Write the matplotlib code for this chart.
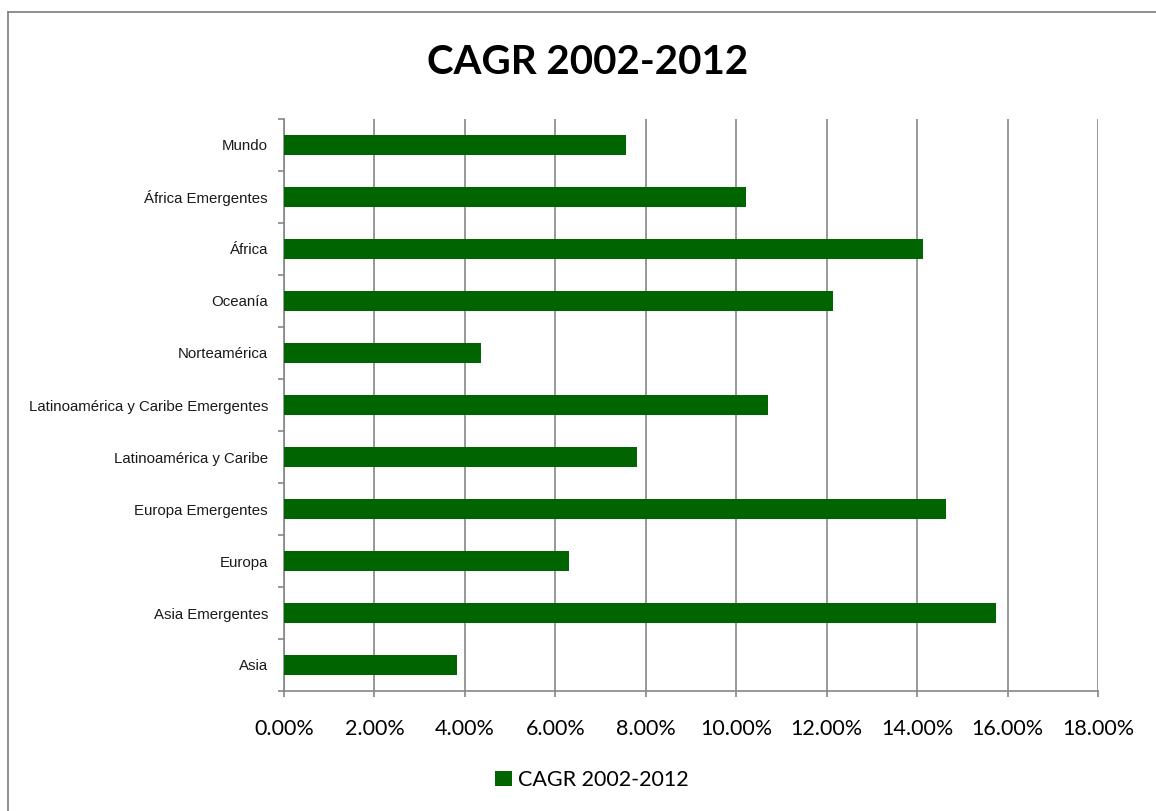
import matplotlib
matplotlib.use("Agg")
import matplotlib.pyplot as plt
from matplotlib.lines import Line2D
from matplotlib.ticker import FixedLocator, PercentFormatter

# Regions, listed top to bottom as they appear on the chart
regions = [
    "Mundo",
    "África Emergentes",
    "África",
    "Oceanía",
    "Norteamérica",
    "Latinoamérica y Caribe Emergentes",
    "Latinoamérica y Caribe",
    "Europa Emergentes",
    "Europa",
    "Asia Emergentes",
    "Asia",
]
# Compound annual growth rate 2002-2012, as fractions
cagr = [0.0757, 0.1022, 0.1412, 0.1215, 0.0436, 0.1070, 0.0780, 0.1463, 0.0630, 0.1575, 0.0383]
series_name = "CAGR 2002-2012"
x_ticks = [0.00, 0.02, 0.04, 0.06, 0.08, 0.10, 0.12, 0.14, 0.16, 0.18]

W, H, DPI = 1156, 811, 100
GREEN = "#006400"
GRID = "#868686"

fig = plt.figure(figsize=(W / DPI, H / DPI), dpi=DPI, facecolor="white")
ax = fig.add_axes([284 / W, 1 - 691 / H, (1098 - 284) / W, (691 - 119) / H])

n = len(regions)
ypos = list(range(n))
ax.barh(ypos, cagr, height=0.4, color=GREEN, edgecolor="none", label=series_name, zorder=3)

ax.set_xlim(x_ticks[0], x_ticks[-1])
ax.set_ylim(n - 0.5, -0.5)

# x axis: percent labels and vertical gridlines
ax.xaxis.set_major_locator(FixedLocator(x_ticks))
ax.xaxis.set_major_formatter(PercentFormatter(xmax=1, decimals=2))
ax.grid(axis="x", color=GRID, linewidth=1.2, zorder=0)
ax.tick_params(axis="x", which="major", direction="out", length=4.5, width=1.2,
               color=GRID, pad=16, labelsize=15.5, labelcolor="black")
for lab in ax.get_xticklabels():
    lab.set_fontfamily(["Lato", "DejaVu Sans"])

# y axis: labels centred on bars, tick marks between categories
ax.set_yticks(ypos)
ax.set_yticklabels(regions, fontfamily=["Liberation Sans", "DejaVu Sans"], fontsize=10.8)
ax.yaxis.set_minor_locator(FixedLocator([i - 0.5 for i in range(n + 1)]))
ax.tick_params(axis="y", which="major", length=0, pad=11.5, labelcolor="#1a1a1a")
ax.tick_params(axis="y", which="minor", direction="out", length=4.5, width=1.2, color=GRID)

for side in ("top", "right"):
    ax.spines[side].set_visible(False)
for side in ("left", "bottom"):
    ax.spines[side].set_color(GRID)
    ax.spines[side].set_linewidth(1.2)

# Title
fig.text(588 / W, 1 - 63 / H, series_name, ha="center", va="center",
         fontsize=29, fontweight="bold", fontfamily=["Lato", "DejaVu Sans"], color="black")

# Legend below the axis
leg = fig.legend(loc="center", bbox_to_anchor=(592 / W, 1 - 780 / H),
                 frameon=False, handlelength=0.75, handleheight=0.75,
                 handletextpad=0.3, borderpad=0,
                 prop={"family": ["Lato", "DejaVu Sans"], "size": 15.5})

# Chart area border (top and left edges)
fig.add_artist(Line2D([8 / W, 8 / W], [0, 1 - 12 / H], transform=fig.transFigure,
                      color=GRID, linewidth=1.3))
fig.add_artist(Line2D([8 / W, 1], [1 - 12 / H, 1 - 12 / H], transform=fig.transFigure,
                      color=GRID, linewidth=1.3))

fig.savefig("out.png", dpi=DPI, facecolor="white")
